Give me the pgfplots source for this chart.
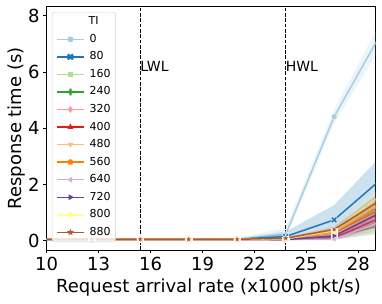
\documentclass[border=0pt]{standalone}
\usepackage{fontspec}
\setmainfont{DejaVu Sans}
\usepackage{pgfplots}
\pgfplotsset{compat=1.18}
\definecolor{c0}{HTML}{A6CEE3}
\definecolor{c80}{HTML}{1F78B4}
\definecolor{c160}{HTML}{B2DF8A}
\definecolor{c240}{HTML}{33A02C}
\definecolor{c320}{HTML}{FB9A99}
\definecolor{c400}{HTML}{E31A1C}
\definecolor{c480}{HTML}{FDBF6F}
\definecolor{c560}{HTML}{FF7F00}
\definecolor{c640}{HTML}{CAB2D6}
\definecolor{c720}{HTML}{6A3D9A}
\definecolor{c800}{HTML}{FFFF99}
\definecolor{c880}{HTML}{B15928}
% filled star mark
\pgfdeclareplotmark{fstar}{%
  \pgfpathmoveto{\pgfpointpolar{90}{\pgfplotmarksize}}%
  \pgfpathlineto{\pgfpointpolar{126}{0.42\pgfplotmarksize}}%
  \pgfpathlineto{\pgfpointpolar{162}{\pgfplotmarksize}}%
  \pgfpathlineto{\pgfpointpolar{198}{0.42\pgfplotmarksize}}%
  \pgfpathlineto{\pgfpointpolar{234}{\pgfplotmarksize}}%
  \pgfpathlineto{\pgfpointpolar{270}{0.42\pgfplotmarksize}}%
  \pgfpathlineto{\pgfpointpolar{306}{\pgfplotmarksize}}%
  \pgfpathlineto{\pgfpointpolar{342}{0.42\pgfplotmarksize}}%
  \pgfpathlineto{\pgfpointpolar{18}{\pgfplotmarksize}}%
  \pgfpathlineto{\pgfpointpolar{54}{0.42\pgfplotmarksize}}%
  \pgfpathclose\pgfusepathqfillstroke}
% filled plus mark (rotate 45 for a filled X)
\pgfdeclareplotmark{fplus}{%
  \pgfpathmoveto{\pgfpoint{0.33\pgfplotmarksize}{\pgfplotmarksize}}%
  \pgfpathlineto{\pgfpoint{0.33\pgfplotmarksize}{0.33\pgfplotmarksize}}%
  \pgfpathlineto{\pgfpoint{\pgfplotmarksize}{0.33\pgfplotmarksize}}%
  \pgfpathlineto{\pgfpoint{\pgfplotmarksize}{-0.33\pgfplotmarksize}}%
  \pgfpathlineto{\pgfpoint{0.33\pgfplotmarksize}{-0.33\pgfplotmarksize}}%
  \pgfpathlineto{\pgfpoint{0.33\pgfplotmarksize}{-\pgfplotmarksize}}%
  \pgfpathlineto{\pgfpoint{-0.33\pgfplotmarksize}{-\pgfplotmarksize}}%
  \pgfpathlineto{\pgfpoint{-0.33\pgfplotmarksize}{-0.33\pgfplotmarksize}}%
  \pgfpathlineto{\pgfpoint{-\pgfplotmarksize}{-0.33\pgfplotmarksize}}%
  \pgfpathlineto{\pgfpoint{-\pgfplotmarksize}{0.33\pgfplotmarksize}}%
  \pgfpathlineto{\pgfpoint{-0.33\pgfplotmarksize}{0.33\pgfplotmarksize}}%
  \pgfpathlineto{\pgfpoint{-0.33\pgfplotmarksize}{\pgfplotmarksize}}%
  \pgfpathclose\pgfusepathqfillstroke}
% #1 colour, #2 mark style, #3 legend text, #4 line coordinates, #5 band polygon
\newcommand{\series}[5]{%
  \addplot[draw=none, fill=#1, fill opacity=0.22, forget plot] coordinates {#5} -- cycle;
  \addplot[color=#1, line width=1.5pt, mark size=3.2pt, mark options={draw=white, fill=#1, line width=0.35pt}, #2] coordinates {#4};
  \addlegendentry{#3}%
}
\begin{document}
\begin{tikzpicture}
\begin{axis}[
  at={(46.7pt,54pt)}, anchor=south west,
  scale only axis, width=329pt, height=243.3pt,
  xmin=10, xmax=29, ymin=-0.33, ymax=8.32,
  xtick={10,13,16,19,22,25,28}, ytick={0,2,4,6,8},
  tick align=outside, major tick length=3.5pt,
  tick pos=left,
  tick style={black, line width=0.8pt},
  axis line style={line width=0.8pt},
  /pgf/number format/assume math mode=true,
  tick label style={font=\fontsize{18}{20}\selectfont},
  xlabel={Request arrival rate (x1000 pkt/s)},
  ylabel={Response time (s)},
  label style={font=\fontsize{18}{20}\selectfont},
  xlabel style={at={(axis description cs:0.4918,-0.1755)}, anchor=base},
  ylabel style={at={(axis description cs:-0.0772,0.5)}, anchor=base},
  legend cell align=left,
  legend image code/.code={\draw[mark repeat=2,mark phase=2] plot coordinates {(0pt,0pt) (13.5pt,0pt) (27pt,0pt)};},
  legend image post style={fill opacity=1, draw opacity=1, every mark/.append style={draw opacity=0}},
  legend style={at={(axis description cs:0.016,0.978)}, anchor=north west,
    font=\fontsize{11}{13}\selectfont, draw=black!20, rounded corners=2pt,
    fill=white, fill opacity=0.8, text opacity=1, draw opacity=1,
    inner xsep=4pt, inner ysep=3pt, row sep=4.55pt, column sep=4pt,
    nodes={inner sep=1pt, text height=8.5pt, text depth=2.5pt}},
]
\addlegendimage{empty legend}
\addlegendentry{\hspace*{-1pt}TI}
\series{c0}{mark=*, mark size=3pt}{0}
  {(9.8,0.05)(12.6,0.05)(15.4,0.05)(18.2,0.05)(21.0,0.05)(23.8,0.22)(26.6,4.41)(29.4,7.47)}
  {(21.0,0.10)(23.8,0.45)(26.6,4.65)(29.4,7.93)(29.4,7.00)(26.6,4.18)(23.8,0.08)(21.0,0.03)}
\series{c80}{mark=fplus, every mark/.append style={rotate=45}, mark size=3.6pt}{80}
  {(9.8,0.05)(12.6,0.05)(15.4,0.05)(18.2,0.05)(21.0,0.05)(23.8,0.15)(26.6,0.74)(29.4,2.23)}
  {(21.0,0.08)(23.8,0.32)(26.6,1.27)(29.4,3.07)(29.4,1.10)(26.6,0.30)(23.8,0.05)(21.0,0.03)}
\series{c160}{mark=square*, mark size=2.7pt}{160}
  {(9.8,0.05)(12.6,0.05)(15.4,0.05)(18.2,0.05)(21.0,0.05)(23.8,0.06)(26.6,0.30)(29.4,1.30)}
  {(21.0,0.06)(23.8,0.09)(26.6,0.40)(29.4,1.60)(29.4,1.00)(26.6,0.20)(23.8,0.03)(21.0,0.04)}
\series{c240}{mark=fplus, mark size=3.3pt}{240}
  {(9.8,0.05)(12.6,0.05)(15.4,0.05)(18.2,0.05)(21.0,0.05)(23.8,0.05)(26.6,0.12)(29.4,0.57)}
  {(21.0,0.06)(23.8,0.08)(26.6,0.22)(29.4,0.87)(29.4,0.27)(26.6,0.04)(23.8,0.02)(21.0,0.04)}
\series{c320}{mark=diamond*, mark size=3.5pt}{320}
  {(9.8,0.05)(12.6,0.05)(15.4,0.05)(18.2,0.05)(21.0,0.05)(23.8,0.05)(26.6,0.08)(29.4,0.72)}
  {(21.0,0.06)(23.8,0.08)(26.6,0.18)(29.4,1.02)(29.4,0.42)(26.6,0.02)(23.8,0.02)(21.0,0.04)}
\series{c400}{mark=triangle*, mark size=3.4pt}{400}
  {(9.8,0.05)(12.6,0.05)(15.4,0.05)(18.2,0.05)(21.0,0.05)(23.8,0.05)(26.6,0.10)(29.4,0.85)}
  {(21.0,0.06)(23.8,0.08)(26.6,0.20)(29.4,1.15)(29.4,0.55)(26.6,0.02)(23.8,0.02)(21.0,0.04)}
\series{c480}{mark=triangle*, mark size=3.4pt, every mark/.append style={rotate=180}}{480}
  {(9.8,0.05)(12.6,0.05)(15.4,0.05)(18.2,0.05)(21.0,0.05)(23.8,0.06)(26.6,0.30)(29.4,1.36)}
  {(21.0,0.06)(23.8,0.09)(26.6,0.40)(29.4,1.66)(29.4,1.06)(26.6,0.20)(23.8,0.03)(21.0,0.04)}
\series{c560}{mark=pentagon*, mark size=3.2pt}{560}
  {(9.8,0.05)(12.6,0.05)(15.4,0.05)(18.2,0.05)(21.0,0.05)(23.8,0.06)(26.6,0.28)(29.4,1.16)}
  {(21.0,0.06)(23.8,0.09)(26.6,0.38)(29.4,1.46)(29.4,0.86)(26.6,0.18)(23.8,0.03)(21.0,0.04)}
\series{c640}{mark=triangle*, mark size=3.4pt, every mark/.append style={rotate=90}}{640}
  {(9.8,0.05)(12.6,0.05)(15.4,0.05)(18.2,0.05)(21.0,0.05)(23.8,0.05)(26.6,0.06)(29.4,0.69)}
  {(21.0,0.06)(23.8,0.08)(26.6,0.16)(29.4,0.99)(29.4,0.39)(26.6,0.01)(23.8,0.02)(21.0,0.04)}
\series{c720}{mark=triangle*, mark size=3.4pt, every mark/.append style={rotate=-90}}{720}
  {(9.8,0.05)(12.6,0.05)(15.4,0.05)(18.2,0.05)(21.0,0.05)(23.8,0.04)(26.6,0.17)(29.4,1.03)}
  {(21.0,0.06)(23.8,0.07)(26.6,0.27)(29.4,1.33)(29.4,0.73)(26.6,0.07)(23.8,0.01)(21.0,0.04)}
\series{c800}{mark=*, mark size=3pt}{800}
  {(9.8,0.05)(12.6,0.05)(15.4,0.05)(18.2,0.05)(21.0,0.05)(23.8,0.07)(26.6,0.35)(29.4,1.66)}
  {(21.0,0.06)(23.8,0.10)(26.6,0.45)(29.4,1.96)(29.4,1.36)(26.6,0.25)(23.8,0.04)(21.0,0.04)}
\series{c880}{mark=fstar, mark size=3.6pt}{880}
  {(9.8,0.05)(12.6,0.05)(15.4,0.05)(18.2,0.05)(21.0,0.05)(23.8,0.09)(26.6,0.40)(29.4,1.49)}
  {(21.0,0.06)(23.8,0.12)(26.6,0.50)(29.4,1.79)(29.4,1.19)(26.6,0.30)(23.8,0.06)(21.0,0.04)}
\addplot[black, line width=0.8pt, dash pattern=on 3.7pt off 1.6pt, forget plot] coordinates {(15.4,-0.33)(15.4,8.32)};
\addplot[black, line width=0.8pt, dash pattern=on 3.7pt off 1.6pt, forget plot] coordinates {(23.8,-0.33)(23.8,8.32)};
\node[anchor=base west, inner sep=0pt, font=\fontsize{14}{16}\selectfont] at (axis cs:15.4,6) {LWL};
\node[anchor=base west, inner sep=0pt, font=\fontsize{14}{16}\selectfont] at (axis cs:23.8,6) {HWL};
\end{axis}
\pgfresetboundingbox
\path[use as bounding box] (0,0) rectangle (382pt,304pt);
\end{tikzpicture}
\end{document}
